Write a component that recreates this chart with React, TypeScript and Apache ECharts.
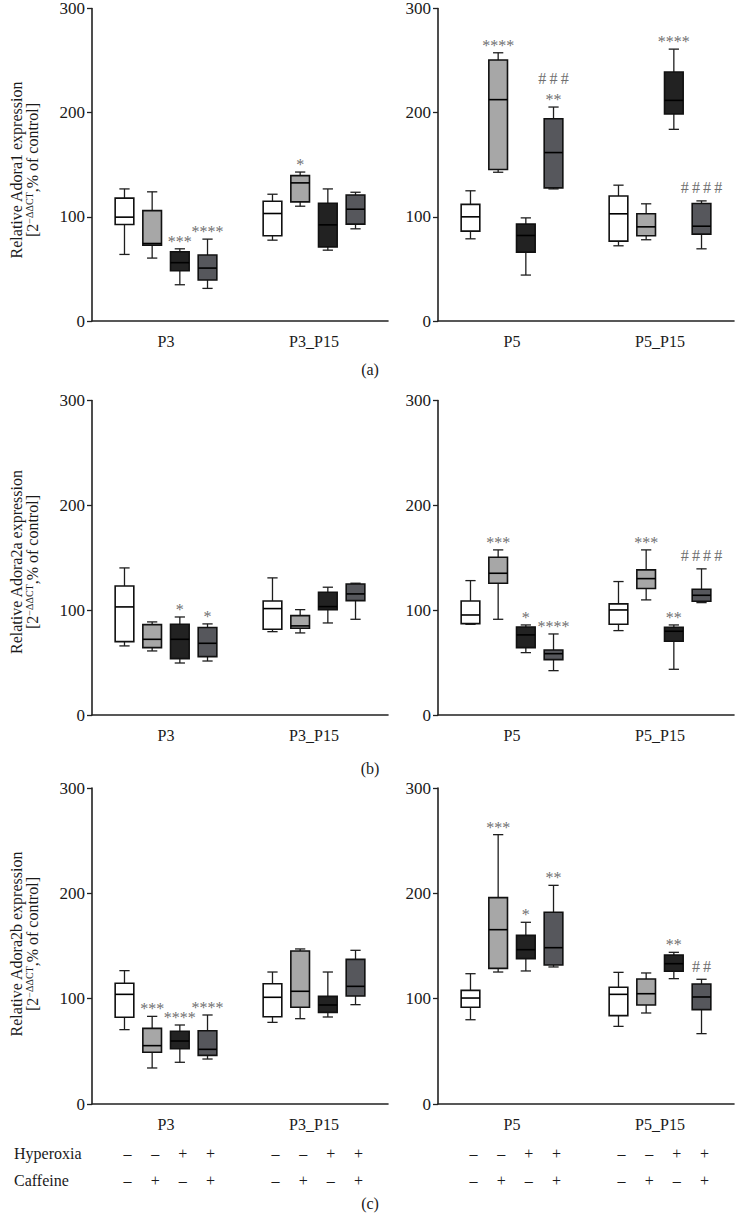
import React, { useEffect, useRef } from "react";
import * as echarts from "echarts";

// ---------- data ----------
const CATS_LEFT = ["P3", "P3_P15"];
const CATS_RIGHT = ["P5", "P5_P15"];
const CONDITIONS = ["Control", "Caffeine", "Hyperoxia", "Hyperoxia + Caffeine"];
const HYPEROXIA_SIGNS = ["\u2013", "\u2013", "+", "+"];
const CAFFEINE_SIGNS = ["\u2013", "+", "\u2013", "+"];
const Y_TICKS = [0, 100, 200, 300];

// each box: [min, Q1, median, Q3, max]; order = CONDITIONS
const adora1_P3 = [[63.9, 92.7, 99.7, 118, 126.8], [60.4, 72.8, 74.4, 106, 124], [34.8, 48.2, 56, 66.5, 69.3], [31.3, 39.3, 50.8, 63.3, 78.6]];
const adora1_P3_P15 = [[77.6, 81.8, 103.2, 115, 121.7], [110.2, 114.4, 132.6, 139.6, 143], [68, 71.2, 92.3, 113, 126.8], [88.5, 93, 107.3, 121, 123.6]];
const adora1_P5 = [[78.9, 86.3, 100, 112, 125], [142.8, 145.4, 212.5, 250.5, 257.5], [44.1, 66.1, 82.1, 93, 99], [126.8, 127.8, 161.7, 194.2, 205.4]];
const adora1_P5_P15 = [[72.2, 76.7, 102.9, 120, 130.4], [78, 81.8, 90.4, 102.9, 112.5], [184, 198.7, 211.8, 239, 261], [69.3, 83.4, 91, 112.8, 115.3]];

const adora2a_P3 = [[65.9, 70, 103.1, 123.1, 140.3], [61.1, 64.3, 72.2, 86.2, 88.8], [49.6, 53.8, 72.2, 86.5, 93.5], [51.5, 55.7, 68.4, 83.4, 86.9]];
const adora2a_P3_P15 = [[79.5, 81.8, 101.5, 108.8, 130.8], [78.3, 82.7, 85, 94.8, 100.5], [87.8, 100.5, 103.4, 117.1, 121.9], [91.3, 109.1, 115.5, 125, 125.7]];
const adora2a_P5 = [[86.5, 87.2, 95.4, 108.8, 128.2], [91.3, 125.7, 135.2, 150.5, 157.5], [59.5, 64.3, 76.4, 84, 85.9], [42.3, 52.8, 58.5, 62, 77.3]];
const adora2a_P5_P15 = [[80.5, 86.5, 100.2, 106, 127.3], [109.8, 120.6, 130.1, 138.4, 157.5], [43.6, 70.3, 79.9, 83.7, 85.9], [107.2, 108.5, 114.2, 120, 139.4]];

const adora2b_P3 = [[70.6, 82.3, 104.1, 114.6, 126.6], [34.2, 49.1, 55.4, 71.8, 83.2], [39.6, 52.5, 59.8, 69, 75], [42.7, 46.2, 51.9, 69.6, 84.5]];
const adora2b_P3_P15 = [[77.5, 82.9, 101.3, 114.2, 125.3], [81, 91.8, 107, 145.3, 147.2], [82.6, 87, 94, 102.2, 125.3], [94.3, 102.5, 111.7, 137.3, 145.9]];
const adora2b_P5 = [[80, 91.8, 100.6, 107.9, 123.7], [125.3, 128.8, 165.5, 195.9, 255.7], [126.3, 138, 146.5, 160.1, 172.5], [130.1, 132, 148.4, 182, 207.6]];
const adora2b_P5_P15 = [[73.7, 83.9, 104.1, 110.8, 125], [86.4, 94, 104.7, 118.7, 124.4], [119, 126, 133.2, 141.5, 144], [66.8, 89.6, 101.6, 113.9, 118.4]];

// significance marks (vs control: *, vs hyperoxia: #)
const NONE = ["", "", "", ""];
const adora1_P3_sig = ["", "", "***", "****"];
const adora1_P3_P15_sig = ["", "*", "", ""];
const adora1_P5_sig = ["", "****", "", "**"];
const adora1_P5_hash = ["", "", "", "###"];
const adora1_P5_P15_sig = ["", "", "****", ""];
const adora1_P5_P15_hash = ["", "", "", "####"];

const adora2a_P3_sig = ["", "", "*", "*"];
const adora2a_P5_sig = ["", "***", "*", "****"];
const adora2a_P5_P15_sig = ["", "***", "**", ""];
const adora2a_P5_P15_hash = ["", "", "", "####"];

const adora2b_P3_sig = ["", "***", "****", "****"];
const adora2b_P5_sig = ["", "***", "*", "**"];
const adora2b_P5_P15_sig = ["", "", "**", ""];
const adora2b_P5_P15_hash = ["", "", "", "##"];

const GENES = ["Adora1", "Adora2a", "Adora2b"];
const PANEL_LETTERS = ["(a)", "(b)", "(c)"];

// ---------- styles / layout ----------
const FONT = "'Liberation Serif', 'Times New Roman', serif";
const BOX_COLORS = ["#ffffff", "#a7a7a7", "#222222", "#56575c"];
const MARK_COLOR = "#707070";
const COL_LEFT = [92, 438];
const COL_WIDTH = 296;
const ROW_TOP = [8, 400.5, 788];
const ROW_HEIGHT = [313, 314.5, 316];
const ROW_NAME_Y = [170, 562, 944];
const ROW_LETTER_Y = [369, 768, 1203];
const BOX_STEP = 0.187; // fraction of band between neighbouring boxes
const BOX_W = 0.126; // fraction of band
const SIGN_ROWS_Y = [1153, 1180];

const PANELS = [
  { row: 0, col: 0, cats: CATS_LEFT, stats: [adora1_P3, adora1_P3_P15], sig: [adora1_P3_sig, adora1_P3_P15_sig], hash: [NONE, NONE] },
  { row: 0, col: 1, cats: CATS_RIGHT, stats: [adora1_P5, adora1_P5_P15], sig: [adora1_P5_sig, adora1_P5_P15_sig], hash: [adora1_P5_hash, adora1_P5_P15_hash] },
  { row: 1, col: 0, cats: CATS_LEFT, stats: [adora2a_P3, adora2a_P3_P15], sig: [adora2a_P3_sig, NONE], hash: [NONE, NONE] },
  { row: 1, col: 1, cats: CATS_RIGHT, stats: [adora2a_P5, adora2a_P5_P15], sig: [adora2a_P5_sig, adora2a_P5_P15_sig], hash: [NONE, adora2a_P5_P15_hash] },
  { row: 2, col: 0, cats: CATS_LEFT, stats: [adora2b_P3, adora2b_P3_P15], sig: [adora2b_P3_sig, NONE], hash: [NONE, NONE] },
  { row: 2, col: 1, cats: CATS_RIGHT, stats: [adora2b_P5, adora2b_P5_P15], sig: [adora2b_P5_sig, adora2b_P5_P15_sig], hash: [NONE, adora2b_P5_P15_hash] },
];

function buildOption() {
  const grid: any[] = [];
  const xAxis: any[] = [];
  const yAxis: any[] = [];
  const series: any[] = [];

  PANELS.forEach((p, i) => {
    grid.push({ left: COL_LEFT[p.col], top: ROW_TOP[p.row], width: COL_WIDTH, height: ROW_HEIGHT[p.row], containLabel: false });
    xAxis.push({
      type: "category",
      gridIndex: i,
      data: p.cats,
      boundaryGap: true,
      axisLine: { lineStyle: { color: "#222222", width: 1.6 } },
      axisTick: { alignWithLabel: true, length: 5, lineStyle: { color: "#222222", width: 1.3 } },
      axisLabel: { fontFamily: FONT, fontSize: 16, color: "#1a1a1a", margin: 12 },
      splitLine: { show: false },
    });
    yAxis.push({
      type: "value",
      gridIndex: i,
      min: Y_TICKS[0],
      max: Y_TICKS[Y_TICKS.length - 1],
      interval: 100,
      axisLine: { show: true, lineStyle: { color: "#222222", width: 1.6 } },
      axisTick: { show: true, length: 5, lineStyle: { color: "#222222", width: 1.3 } },
      axisLabel: { fontFamily: FONT, fontSize: 17, color: "#1a1a1a", margin: 7 },
      splitLine: { show: false },
    });

    const data: any[] = [];
    p.stats.forEach((group, g) => {
      group.forEach((b, s) => {
        data.push([g, b[0], b[1], b[2], b[3], b[4], s]);
      });
    });

    series.push({
      type: "custom",
      xAxisIndex: i,
      yAxisIndex: i,
      encode: { x: 0, y: [1, 2, 3, 4, 5] },
      data,
      renderItem: (params: any, api: any) => {
        const g = api.value(0);
        const s = api.value(6);
        const band = api.size([1, 0], [g, 0])[0];
        const cx = api.coord([g, 0])[0] + (s - 1.5) * BOX_STEP * band;
        const half = (BOX_W * band) / 2;
        const capHalf = half * 0.55;
        const yy = (v: number) => api.coord([g, v])[1];
        const yMin = yy(api.value(1));
        const yQ1 = yy(api.value(2));
        const yMed = yy(api.value(3));
        const yQ3 = yy(api.value(4));
        const yMax = yy(api.value(5));
        const lineStyle = { stroke: "#1e1e1e", lineWidth: 1.3 };
        return {
          type: "group",
          children: [
            { type: "line", shape: { x1: cx, y1: yMax, x2: cx, y2: yQ3 }, style: lineStyle },
            { type: "line", shape: { x1: cx, y1: yQ1, x2: cx, y2: yMin }, style: lineStyle },
            { type: "line", shape: { x1: cx - capHalf, y1: yMax, x2: cx + capHalf, y2: yMax }, style: lineStyle },
            { type: "line", shape: { x1: cx - capHalf, y1: yMin, x2: cx + capHalf, y2: yMin }, style: lineStyle },
            {
              type: "rect",
              shape: { x: cx - half, y: yQ3, width: half * 2, height: yQ1 - yQ3 },
              style: { fill: BOX_COLORS[s], stroke: "#111111", lineWidth: 1.6 },
            },
            { type: "line", shape: { x1: cx - half, y1: yMed, x2: cx + half, y2: yMed }, style: { stroke: "#000000", lineWidth: 1.6 } },
          ],
        };
      },
    });
  });

  return { animation: false, backgroundColor: "#ffffff", grid, xAxis, yAxis, series };
}

function buildGraphic(chart: any) {
  const graphic: any[] = [];

  // significance marks above whiskers, positioned through the axes
  PANELS.forEach((p, i) => {
    p.stats.forEach((group, g) => {
      group.forEach((b, s) => {
        const sigText = p.sig[g][s];
        const hashText = p.hash[g][s];
        if (!sigText && !hashText) return;
        const c0 = chart.convertToPixel({ gridIndex: i }, [g, b[4]]);
        const c1 = chart.convertToPixel({ gridIndex: i }, [g + 1 > 1 ? g - 1 : g + 1, b[4]]);
        const band = Math.abs(c1[0] - c0[0]);
        const cx = c0[0] + (s - 1.5) * BOX_STEP * band;
        const yMax = c0[1];
        if (sigText) {
          graphic.push({
            type: "text",
            x: cx,
            y: yMax - 7.5,
            style: { text: sigText, align: "center", verticalAlign: "middle", fontFamily: FONT, fontSize: 16, fill: MARK_COLOR },
          });
        }
        if (hashText) {
          graphic.push({
            type: "text",
            x: cx,
            y: sigText ? yMax - 29 : yMax - 13,
            style: { text: hashText.split("").join("\u2009"), align: "center", verticalAlign: "middle", fontFamily: FONT, fontSize: 16, fill: MARK_COLOR },
          });
        }
      });
    });
  });

  GENES.forEach((gene, r) => {
    graphic.push({
      type: "text",
      x: 24,
      y: ROW_NAME_Y[r],
      rotation: Math.PI / 2,
      style: {
        text: `{a|Relative ${gene} expression}\n{a|[2}{s|\u2212\u0394\u0394CT}{a|,% of control]}`,
        align: "center",
        verticalAlign: "middle",
        fontFamily: FONT,
        fill: "#1a1a1a",
        rich: {
          a: { fontFamily: FONT, fontSize: 16, lineHeight: 16, fill: "#1a1a1a" },
          s: { fontFamily: FONT, fontSize: 10, lineHeight: 9, verticalAlign: "top", fill: "#1a1a1a" },
        },
      },
    });
    graphic.push({
      type: "text",
      x: 370,
      y: ROW_LETTER_Y[r],
      style: { text: PANEL_LETTERS[r], align: "center", verticalAlign: "middle", fontFamily: FONT, fontSize: 16, fill: "#1a1a1a" },
    });
  });

  const rowLabels = ["Hyperoxia", "Caffeine"];
  const signs = [HYPEROXIA_SIGNS, CAFFEINE_SIGNS];
  rowLabels.forEach((lab, k) => {
    graphic.push({
      type: "text",
      x: 14,
      y: SIGN_ROWS_Y[k],
      style: { text: lab, align: "left", verticalAlign: "middle", fontFamily: FONT, fontSize: 16, fill: "#1a1a1a" },
    });
    COL_LEFT.forEach((left) => {
      const band = COL_WIDTH / 2;
      [0, 1].forEach((g) => {
        CONDITIONS.forEach((_c, s) => {
          graphic.push({
            type: "text",
            x: left + (g + 0.5) * band + (s - 1.5) * BOX_STEP * band + 3,
            y: SIGN_ROWS_Y[k],
            style: { text: signs[k][s], align: "center", verticalAlign: "middle", fontFamily: FONT, fontSize: 16, fill: "#1a1a1a" },
          });
        });
      });
    });
  });

  return graphic;
}

export default function App() {
  const ref = useRef<HTMLDivElement>(null);
  useEffect(() => {
    if (!ref.current) return;
    const chart = echarts.init(ref.current, undefined, { renderer: "svg" });
    chart.setOption(buildOption() as any);
    chart.setOption({ graphic: buildGraphic(chart) } as any);
    return () => chart.dispose();
  }, []);
  return <div ref={ref} style={{ position: "absolute", left: 0, top: 0, width: 735, height: 1220 }} />;
}
